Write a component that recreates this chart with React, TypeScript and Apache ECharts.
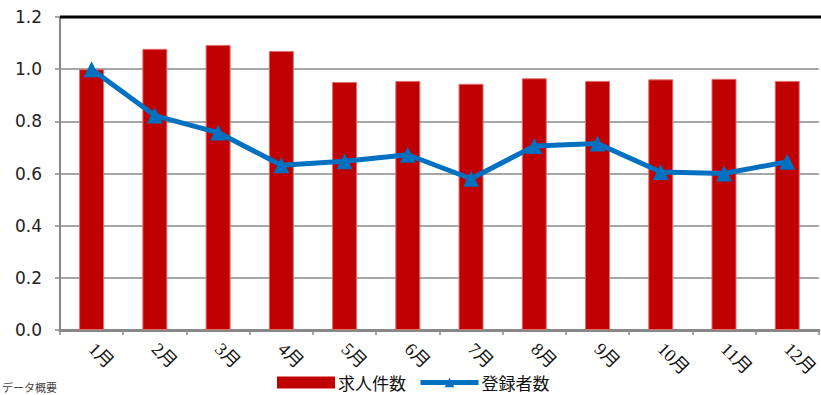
import React, { useEffect, useRef } from "react";
import * as echarts from "echarts";

const months = ["1月", "2月", "3月", "4月", "5月", "6月", "7月", "8月", "9月", "10月", "11月", "12月"];
const jobOffers = [1.0, 1.078, 1.093, 1.07, 0.951, 0.955, 0.944, 0.965, 0.955, 0.961, 0.963, 0.955];
const registrants = [1.0, 0.822, 0.757, 0.632, 0.647, 0.672, 0.58, 0.705, 0.715, 0.606, 0.6, 0.645];
const yTicks = { min: 0, max: 1.2, interval: 0.2 };

export default function App() {
  const ref = useRef<HTMLDivElement>(null);

  useEffect(() => {
    if (!ref.current) return;
    const chart = echarts.init(ref.current, null, { renderer: "svg" });
    chart.setOption({
      animation: false,
      grid: { left: 60, top: 17, width: 763, height: 313, containLabel: false },
      legend: {
        bottom: -1,
        left: 272,
        itemGap: 12,
        textStyle: { fontFamily: "Noto Sans CJK JP", fontSize: 17, color: "#111", padding: [0, 0, 0, -2] },
        data: [
          { name: "求人件数", icon: "rect", itemStyle: { borderWidth: 0 } },
          { name: "登録者数", lineStyle: { width: 5 } },
        ],
        itemWidth: 58,
        itemHeight: 12,
      },
      xAxis: {
        type: "category",
        data: months,
        axisLine: { lineStyle: { color: "#888", width: 3 } },
        axisTick: { show: true, lineStyle: { color: "#888", width: 1.5 }, length: 5 },
        axisLabel: {
          rotate: -45,
          interval: 0,
          fontSize: 18,
          color: "#111",
          fontFamily: "Liberation Serif, Noto Sans CJK JP",
          margin: 16,
        },
      },
      yAxis: {
        type: "value",
        min: yTicks.min,
        max: yTicks.max,
        interval: yTicks.interval,
        axisLine: { show: true, lineStyle: { color: "#888", width: 2 } },
        axisTick: { show: true, lineStyle: { color: "#888", width: 1.5 }, length: 5 },
        splitLine: { lineStyle: { color: "#8a8a8a", width: 1.5 } },
        axisLabel: {
          formatter: (v: number) => v.toFixed(1),
          fontSize: 17,
          color: "#222",
          fontFamily: "DejaVu Sans",
          margin: 18,
        },
      },
      graphic: [
        {
          type: "line",
          shape: { x1: 60, y1: 17, x2: 821, y2: 17 },
          style: { stroke: "#000", lineWidth: 3 },
          z: 10,
        },
        {
          type: "text",
          left: 2,
          top: 381,
          style: { text: "データ概要", fontSize: 11, fill: "#444", fontFamily: "Noto Sans CJK JP" },
        },
      ],
      series: [
        {
          name: "求人件数",
          type: "bar",
          data: jobOffers,
          barWidth: 25,
          itemStyle: { color: "#C00000", borderColor: "#E07070", borderWidth: 1 },
        },
        {
          name: "登録者数",
          type: "line",
          data: registrants,
          symbol: "triangle",
          symbolSize: 16,
          lineStyle: { color: "#0070C0", width: 5 },
          itemStyle: { color: "#0070C0" },
          z: 5,
        },
      ],
    });
    return () => chart.dispose();
  }, []);

  return <div ref={ref} style={{ width: 821, height: 395, position: "absolute", left: 0, top: 0 }} />;
}
